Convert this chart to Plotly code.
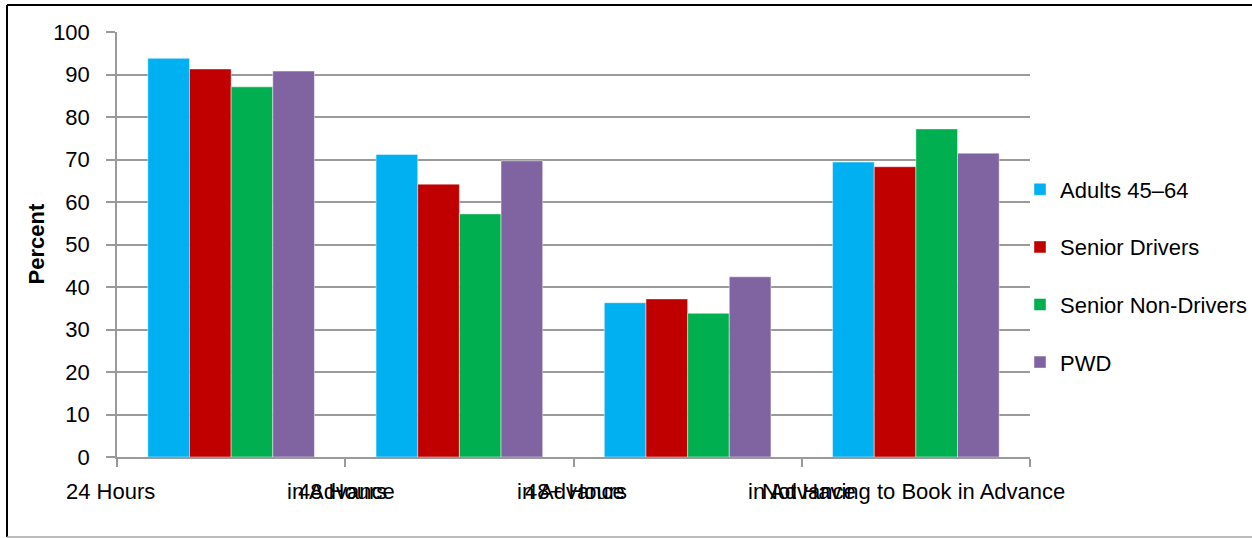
import plotly.graph_objects as go

categories = ["24 Hours in Advance", "48 Hours in Advance", "48+ Hours in Advance",
              "Not Having to Book in Advance"]
series_names = ["Adults 45\u201364", "Senior Drivers", "Senior Non-Drivers", "PWD"]
adults_45_64 = [93.8, 71.2, 36.3, 69.4]
senior_drivers = [91.3, 64.2, 37.2, 68.3]
senior_non_drivers = [87.1, 57.2, 33.8, 77.2]
pwd = [90.8, 69.7, 42.4, 71.5]
colors = ["#00B0F0", "#C00000", "#00B050", "#8064A2"]

# x-axis label pieces as rendered in the reference (overlapping lines),
# positions in category-index units
label_line1 = ["24 Hours", "48 Hours", "48+ Hours", "Not Having to Book in Advance"]
label_line1_pos = [-0.53, 0.49, 1.51, 2.99]
label_line2 = ["in Advance", "in Advance", "in Advance"]
label_line2_pos = [0.48, 1.49, 2.50]

FONT = "Liberation Sans, Arial, sans-serif"
FS = 22
GRID = "#9a9a9a"

W, H = 1252, 538
L, R, T, B = 117, 222, 32, 81
PW, PH = W - L - R, H - T - B
NCAT = len(categories)


def px_x(px):
    return (px - L) / PW


def px_y(py):
    return (T + PH - py) / PH


def cat_to_paper(pos):
    return (pos + 0.5) / NCAT


fig = go.Figure()
for i, (name, vals) in enumerate(zip(series_names,
                                     [adults_45_64, senior_drivers, senior_non_drivers, pwd])):
    fig.add_trace(go.Bar(
        x=categories, y=vals, name=name, legendgroup=name,
        marker=dict(color=colors[i], line=dict(color="rgba(255,255,255,0.45)", width=1)),
    ))

annotations = []
for txt, pos in list(zip(label_line1, label_line1_pos)) + list(zip(label_line2, label_line2_pos)):
    annotations.append(dict(x=cat_to_paper(pos), xref="paper", y=px_y(491), yref="paper", text=txt,
                            showarrow=False, xanchor="center", yanchor="middle",
                            font=dict(family=FONT, size=FS, color="#000000")))
annotations.append(dict(x=px_x(36), xref="paper", y=0.5, yref="paper", text="<b>Percent</b>",
                        textangle=-90, showarrow=False, xanchor="center", yanchor="middle",
                        font=dict(family=FONT, size=FS, color="#000000")))

shapes = [
    dict(type="line", xref="paper", yref="paper", x0=px_x(7), x1=px_x(1252),
         y0=px_y(5), y1=px_y(5), line=dict(color="#000000", width=2)),
    dict(type="line", xref="paper", yref="paper", x0=px_x(7), x1=px_x(7),
         y0=px_y(5), y1=px_y(537), line=dict(color="#000000", width=2)),
    dict(type="line", xref="paper", yref="paper", x0=px_x(7), x1=px_x(1252),
         y0=px_y(537), y1=px_y(537), line=dict(color="#a6a6a6", width=1.5)),
]

fig.update_layout(
    width=W, height=H,
    margin=dict(l=L, r=R, t=T, b=B, autoexpand=False),
    paper_bgcolor="white", plot_bgcolor="white",
    barmode="group", bargap=0.27, bargroupgap=0,
    font=dict(family=FONT, size=FS, color="#000000"),
    legend=dict(x=px_x(1020), y=px_y(276), xanchor="left", yanchor="middle",
                font=dict(family=FONT, size=FS), tracegroupgap=26,
                bgcolor="rgba(0,0,0,0)", itemwidth=30),
    annotations=annotations,
    shapes=shapes,
    xaxis=dict(type="category", range=[-0.5, 3.5], showticklabels=False,
               tickson="boundaries", ticks="outside", ticklen=8, tickcolor=GRID, tickwidth=1.5,
               showline=True, linecolor=GRID, linewidth=1.5, showgrid=False, automargin=False),
    yaxis=dict(range=[0, 100], dtick=10, ticks="outside", ticklen=9, tickcolor=GRID, tickwidth=1.5,
               showline=True, linecolor=GRID, linewidth=1.5, showgrid=True, gridcolor=GRID,
               gridwidth=1.5, zeroline=False, ticklabelstandoff=12, automargin=False,
               tickfont=dict(family=FONT, size=FS, color="#000000")),
)

fig.write_html("out.html", config={"displayModeBar": False},
               post_script="document.body.style.margin='0';document.body.style.overflow='hidden';")
